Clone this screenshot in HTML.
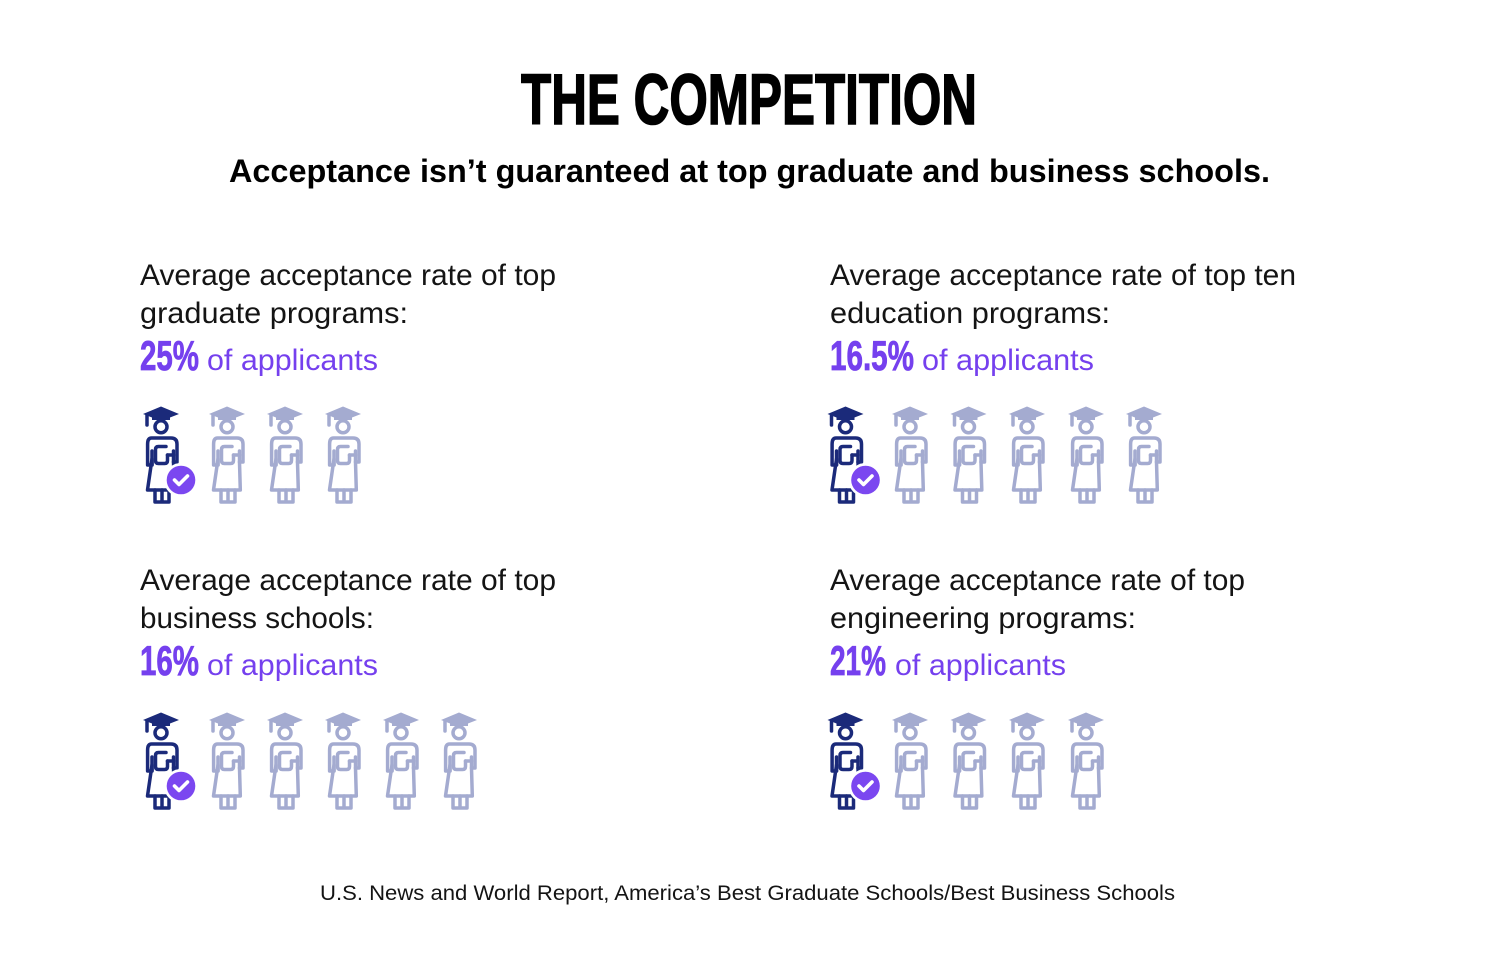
<!DOCTYPE html>
<html><head><meta charset="utf-8"><style>
html,body{margin:0;padding:0;background:#fff;}
svg{display:block;}
.t{font-family:"Liberation Sans",sans-serif;fill:#141414;}
.p{font-family:"Liberation Sans",sans-serif;fill:#7540ee;}
.n{font-family:"Liberation Sans Narrow","Liberation Sans",sans-serif;font-weight:bold;fill:#7540ee;stroke:#7540ee;stroke-width:0.8;}
</style></head><body>
<svg width="1500" height="967" viewBox="0 0 1500 967" xmlns="http://www.w3.org/2000/svg">
<defs>
<g id="ic">
 <g fill="none" stroke="currentColor" stroke-width="3.5" stroke-linecap="round" stroke-linejoin="round">
  <circle cx="0" cy="19.8" r="6"/>
  <path d="M-9.5,31 H10 Q16,31 16,37 V55 H12.5 L13.3,83 H-13.5 L-9,52 V58 H-13.4 V37 Q-13.4,31 -9.5,31 Z"/>
  <path d="M-9,58 V44"/>
  <path d="M12.5,55 V44"/>
  <path d="M5,39.5 H-2.5 Q-5.5,39.5 -5.5,42.5 V53.5 Q-5.5,56.5 -2.5,56.5 H3.5 Q6.5,56.5 6.5,53.5 V48"/>
  <path d="M6.5,48 H12.5"/>
  <path d="M-14,8 V18"/>
  <path d="M-6,83 V95 H8 V83 M1,83 V95"/>
 </g>
 <path d="M0,-0.5 L18,7 L9,10.5 L9,13 L-9,13 L-9,10.5 L-18,7 Z" fill="currentColor"/>
</g>
<g id="badge">
 <circle cx="20" cy="73" r="17" fill="#fff"/>
 <circle cx="20" cy="73" r="14.3" fill="#7b47f0"/>
 <path d="M13.5,73 L18,77.5 L26.5,69" fill="none" stroke="#fff" stroke-width="3.6" stroke-linecap="round" stroke-linejoin="round"/>
</g>
</defs>

<text class="n" x="521" y="124" font-size="71" textLength="456" lengthAdjust="spacingAndGlyphs" style="fill:#000;stroke:#000;stroke-width:1.6">THE COMPETITION</text>
<text class="t" x="229" y="182" font-size="32" font-weight="bold" textLength="1041" lengthAdjust="spacingAndGlyphs" style="fill:#000">Acceptance isn’t guaranteed at top graduate and business schools.</text>

<!-- Top left -->
<text class="t" x="140" y="285" font-size="30" textLength="416" lengthAdjust="spacingAndGlyphs">Average acceptance rate of top</text>
<text class="t" x="140" y="323" font-size="30" textLength="268" lengthAdjust="spacingAndGlyphs">graduate programs:</text>
<text class="n" x="140" y="370" font-size="42" textLength="59" lengthAdjust="spacingAndGlyphs">25%</text>
<text class="p" x="207" y="370" font-size="30" textLength="171" lengthAdjust="spacingAndGlyphs">of applicants</text>

<!-- Top right -->
<text class="t" x="830" y="285" font-size="30" textLength="466" lengthAdjust="spacingAndGlyphs">Average acceptance rate of top ten</text>
<text class="t" x="830" y="323" font-size="30" textLength="280" lengthAdjust="spacingAndGlyphs">education programs:</text>
<text class="n" x="830" y="370" font-size="42" textLength="84" lengthAdjust="spacingAndGlyphs">16.5%</text>
<text class="p" x="922" y="370" font-size="30" textLength="172" lengthAdjust="spacingAndGlyphs">of applicants</text>

<!-- Bottom left -->
<text class="t" x="140" y="590" font-size="30" textLength="416" lengthAdjust="spacingAndGlyphs">Average acceptance rate of top</text>
<text class="t" x="140" y="628" font-size="30" textLength="234" lengthAdjust="spacingAndGlyphs">business schools:</text>
<text class="n" x="140" y="675" font-size="42" textLength="59" lengthAdjust="spacingAndGlyphs">16%</text>
<text class="p" x="207" y="675" font-size="30" textLength="171" lengthAdjust="spacingAndGlyphs">of applicants</text>

<!-- Bottom right -->
<text class="t" x="830" y="590" font-size="30" textLength="415" lengthAdjust="spacingAndGlyphs">Average acceptance rate of top</text>
<text class="t" x="830" y="628" font-size="30" textLength="306" lengthAdjust="spacingAndGlyphs">engineering programs:</text>
<text class="n" x="830" y="675" font-size="42" textLength="56" lengthAdjust="spacingAndGlyphs">21%</text>
<text class="p" x="895" y="675" font-size="30" textLength="171" lengthAdjust="spacingAndGlyphs">of applicants</text>

<!-- Icons row 1 left -->
<g style="color:#1b2a7a"><use href="#ic" transform="translate(161,407)"/><use href="#badge" transform="translate(161,407)"/></g>
<g style="color:#a4abd0">
<use href="#ic" transform="translate(227,407)"/>
<use href="#ic" transform="translate(285,407)"/>
<use href="#ic" transform="translate(343,407)"/>
</g>
<!-- Icons row 1 right -->
<g style="color:#1b2a7a"><use href="#ic" transform="translate(845.5,407)"/><use href="#badge" transform="translate(845.5,407)"/></g>
<g style="color:#a4abd0">
<use href="#ic" transform="translate(910,407)"/>
<use href="#ic" transform="translate(968.5,407)"/>
<use href="#ic" transform="translate(1027,407)"/>
<use href="#ic" transform="translate(1086,407)"/>
<use href="#ic" transform="translate(1144,407)"/>
</g>
<!-- Icons row 2 left -->
<g style="color:#1b2a7a"><use href="#ic" transform="translate(161,713)"/><use href="#badge" transform="translate(161,713)"/></g>
<g style="color:#a4abd0">
<use href="#ic" transform="translate(227,713)"/>
<use href="#ic" transform="translate(285,713)"/>
<use href="#ic" transform="translate(343,713)"/>
<use href="#ic" transform="translate(401,713)"/>
<use href="#ic" transform="translate(459,713)"/>
</g>
<!-- Icons row 2 right -->
<g style="color:#1b2a7a"><use href="#ic" transform="translate(845.5,713)"/><use href="#badge" transform="translate(845.5,713)"/></g>
<g style="color:#a4abd0">
<use href="#ic" transform="translate(910,713)"/>
<use href="#ic" transform="translate(968.5,713)"/>
<use href="#ic" transform="translate(1027,713)"/>
<use href="#ic" transform="translate(1086,713)"/>
</g>

<text class="t" x="320" y="900" font-size="21" textLength="855" lengthAdjust="spacingAndGlyphs">U.S. News and World Report, America’s Best Graduate Schools/Best Business Schools</text>
</svg>
</body></html>
